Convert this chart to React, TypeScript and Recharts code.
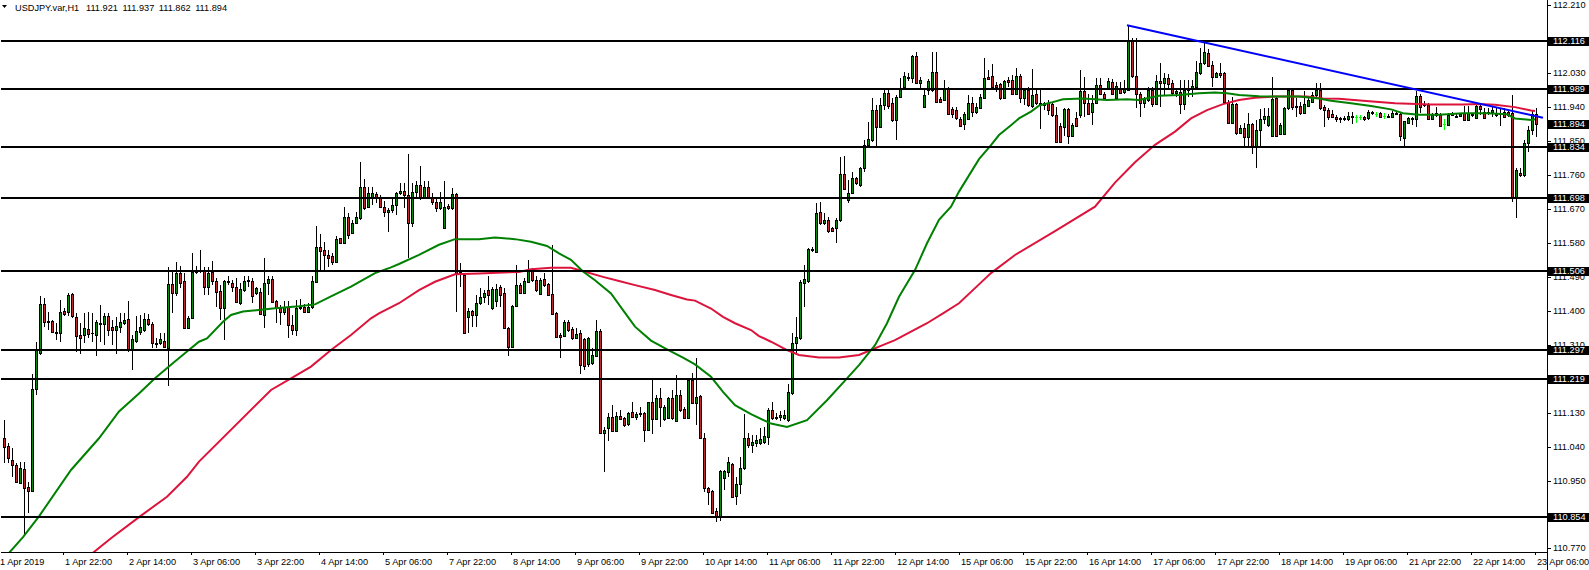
import { ComposedChart, Bar, Line, XAxis, YAxis, ReferenceLine } from "recharts";

// USDJPY H1 candles, 1 Apr 07:00 .. 23 Apr 06:00
const barOpen = [
  111.062, 111.042, 111.005, 110.990, 110.943, 110.980, 110.932, 110.923, 111.192, 111.289,
  111.418, 111.373, 111.374, 111.345, 111.341, 111.400, 111.398, 111.445, 111.383, 111.336,
  111.336, 111.351, 111.342, 111.336, 111.367, 111.364, 111.387, 111.358, 111.349, 111.358,
  111.367, 111.378, 111.296, 111.321, 111.345, 111.349, 111.379, 111.365, 111.315, 111.314,
  111.321, 111.301, 111.470, 111.448, 111.500, 111.478, 111.354, 111.380, 111.502, 111.509,
  111.506, 111.464, 111.504, 111.478, 111.453, 111.407, 111.478, 111.473, 111.464, 111.420,
  111.454, 111.482, 111.479, 111.448, 111.451, 111.389, 111.473, 111.484, 111.425, 111.407,
  111.398, 111.411, 111.363, 111.348, 111.409, 111.409, 111.398, 111.409, 111.476, 111.568,
  111.561, 111.548, 111.544, 111.529, 111.592, 111.579, 111.650, 111.606, 111.632, 111.646,
  111.728, 111.676, 111.699, 111.709, 111.699, 111.676, 111.663, 111.666, 111.681, 111.712,
  111.718, 111.707, 111.632, 111.714, 111.734, 111.703, 111.727, 111.703, 111.689, 111.672,
  111.619, 111.678, 111.672, 111.710, 111.502, 111.495, 111.384, 111.400, 111.389, 111.420,
  111.437, 111.455, 111.407, 111.425, 111.464, 111.446, 111.354, 111.305, 111.413, 111.468,
  111.448, 111.477, 111.508, 111.482, 111.445, 111.484, 111.471, 111.445, 111.393, 111.336,
  111.333, 111.371, 111.351, 111.327, 111.340, 111.325, 111.259, 111.262, 111.280, 111.346,
  111.075, 111.088, 111.119, 111.082, 111.121, 111.115, 111.099, 111.131, 111.119, 111.126,
  111.128, 111.085, 111.157, 111.112, 111.168, 111.113, 111.115, 111.168, 111.108, 111.177,
  111.139, 111.117, 111.216, 111.156, 111.174, 111.062, 110.929, 110.923, 110.870, 110.854,
  110.958, 110.973, 110.993, 110.909, 110.942, 110.982, 111.062, 111.044, 111.050, 111.050,
  111.053, 111.066, 111.137, 111.115, 111.119, 111.115, 111.110, 111.181, 111.314, 111.327,
  111.474, 111.480, 111.561, 111.557, 111.663, 111.634, 111.642, 111.619, 111.619, 111.641,
  111.764, 111.695, 111.711, 111.751, 111.733, 111.778, 111.840, 111.853, 111.932, 111.886,
  111.946, 111.977, 111.952, 111.906, 111.966, 111.994, 112.018, 112.016, 112.076, 112.003,
  111.941, 111.985, 111.985, 112.032, 111.961, 111.959, 111.987, 111.934, 111.932, 111.908,
  111.894, 111.908, 111.952, 111.928, 111.938, 111.965, 112.020, 112.022, 111.998, 112.000,
  111.963, 112.012, 112.012, 111.976, 112.023, 111.965, 111.985, 111.943, 111.974, 111.952,
  111.952, 111.952, 111.947, 111.919, 111.891, 111.888, 111.934, 111.864, 111.912, 111.919,
  111.982, 111.952, 111.926, 111.950, 111.998, 111.976, 111.990, 112.007, 111.965, 111.988,
  111.979, 111.985, 112.115, 112.023, 111.976, 111.950, 111.959, 111.985, 111.948, 112.009,
  112.003, 112.016, 112.003, 111.977, 111.981, 111.948, 111.992, 111.990, 111.994, 112.031,
  112.056, 112.084, 112.052, 112.021, 112.031, 112.030, 111.954, 111.899, 111.948, 111.872,
  111.884, 111.860, 111.895, 111.833, 111.879, 111.908, 111.893, 111.863, 111.963, 111.870,
  111.870, 111.937, 111.985, 111.943, 111.943, 111.925, 111.943, 111.954, 111.972, 111.985,
  111.939, 111.932, 111.923, 111.913, 111.910, 111.912, 111.908, 111.917, 111.913, 111.913,
  111.913, 111.910, 111.924, 111.921, 111.924, 111.917, 111.917, 111.915, 111.924, 111.922,
  111.857, 111.899, 111.910, 111.908, 111.970, 111.948, 111.946, 111.908, 111.924, 111.919,
  111.895, 111.893, 111.924, 111.917, 111.917, 111.924, 111.906, 111.922, 111.910, 111.943,
  111.928, 111.924, 111.928, 111.925, 111.925, 111.928, 111.928, 111.924, 111.698, 111.766,
  111.760, 111.845, 111.880, 111.921,
];

const barHigh = [
  111.111, 111.049, 111.036, 110.996, 110.998, 110.998, 110.947, 111.233, 111.316, 111.439,
  111.433, 111.398, 111.376, 111.367, 111.429, 111.407, 111.448, 111.447, 111.394, 111.367,
  111.394, 111.398, 111.394, 111.376, 111.416, 111.394, 111.394, 111.376, 111.383, 111.394,
  111.394, 111.425, 111.336, 111.385, 111.389, 111.394, 111.391, 111.371, 111.327, 111.341,
  111.341, 111.515, 111.505, 111.530, 111.520, 111.500, 111.385, 111.553, 111.520, 111.562,
  111.517, 111.517, 111.531, 111.486, 111.469, 111.482, 111.491, 111.482, 111.486, 111.473,
  111.491, 111.491, 111.486, 111.464, 111.460, 111.539, 111.491, 111.491, 111.429, 111.416,
  111.425, 111.425, 111.389, 111.429, 111.432, 111.417, 111.420, 111.491, 111.626, 111.603,
  111.582, 111.562, 111.553, 111.597, 111.594, 111.676, 111.659, 111.641, 111.663, 111.794,
  111.750, 111.727, 111.727, 111.716, 111.707, 111.690, 111.672, 111.696, 111.716, 111.738,
  111.738, 111.816, 111.738, 111.743, 111.784, 111.743, 111.743, 111.712, 111.703, 111.716,
  111.743, 111.683, 111.725, 111.712, 111.526, 111.499, 111.407, 111.402, 111.442, 111.460,
  111.455, 111.492, 111.464, 111.470, 111.468, 111.460, 111.358, 111.416, 111.521, 111.473,
  111.486, 111.535, 111.513, 111.491, 111.486, 111.499, 111.475, 111.575, 111.398, 111.340,
  111.376, 111.376, 111.358, 111.354, 111.349, 111.327, 111.331, 111.302, 111.375, 111.351,
  111.093, 111.128, 111.150, 111.132, 111.137, 111.119, 111.132, 111.159, 111.132, 111.146,
  111.132, 111.159, 111.223, 111.176, 111.194, 111.150, 111.172, 111.190, 111.230, 111.190,
  111.146, 111.221, 111.234, 111.274, 111.177, 111.077, 110.933, 110.925, 110.876, 110.979,
  110.979, 111.013, 110.997, 110.960, 111.013, 111.126, 111.075, 111.070, 111.070, 111.088,
  111.093, 111.141, 111.159, 111.128, 111.135, 111.137, 111.207, 111.340, 111.384, 111.482,
  111.521, 111.566, 111.570, 111.685, 111.689, 111.658, 111.650, 111.623, 111.645, 111.809,
  111.810, 111.747, 111.769, 111.756, 111.782, 111.853, 111.901, 111.963, 111.946, 111.963,
  111.985, 111.985, 111.963, 111.972, 112.016, 112.034, 112.030, 112.078, 112.087, 112.019,
  111.985, 112.014, 112.087, 112.087, 111.968, 112.012, 111.994, 111.941, 111.941, 111.915,
  111.928, 111.972, 111.967, 111.950, 111.974, 112.071, 112.038, 112.053, 112.007, 112.003,
  112.012, 112.020, 112.025, 112.043, 112.029, 111.990, 111.994, 112.040, 111.990, 111.990,
  111.954, 111.959, 111.952, 111.941, 111.897, 111.937, 111.937, 111.897, 111.928, 112.038,
  112.020, 111.974, 111.972, 112.016, 112.016, 111.981, 112.016, 112.014, 112.007, 112.007,
  112.012, 112.157, 112.122, 112.122, 111.981, 111.967, 111.994, 111.994, 112.025, 112.056,
  112.030, 112.028, 112.012, 111.990, 112.012, 112.012, 112.012, 112.012, 112.061, 112.096,
  112.114, 112.093, 112.061, 112.034, 112.056, 112.034, 111.959, 111.968, 111.952, 111.893,
  111.897, 111.924, 111.899, 111.906, 111.934, 111.937, 111.937, 112.021, 111.968, 111.897,
  111.941, 111.987, 111.990, 111.963, 111.954, 111.984, 111.968, 111.981, 112.003, 112.003,
  111.946, 111.937, 111.932, 111.919, 111.913, 111.917, 111.928, 111.928, 111.919, 111.919,
  111.917, 111.932, 111.931, 111.928, 111.928, 111.924, 111.921, 111.931, 111.928, 111.928,
  111.904, 111.915, 111.915, 111.984, 111.975, 111.955, 111.952, 111.925, 111.941, 111.924,
  111.908, 111.924, 111.928, 111.921, 111.925, 111.943, 111.943, 111.925, 111.946, 111.950,
  111.937, 111.937, 111.940, 111.937, 111.937, 111.937, 111.932, 111.972, 111.778, 111.778,
  111.853, 111.890, 111.930, 111.937,
];

const barLow = [
  110.996, 110.996, 110.960, 110.943, 110.941, 110.806, 110.863, 110.923, 111.177, 111.283,
  111.358, 111.349, 111.341, 111.323, 111.318, 111.385, 111.385, 111.380, 111.292, 111.286,
  111.314, 111.327, 111.318, 111.279, 111.318, 111.310, 111.332, 111.310, 111.286, 111.341,
  111.363, 111.292, 111.242, 111.314, 111.336, 111.345, 111.361, 111.301, 111.301, 111.310,
  111.301, 111.201, 111.394, 111.440, 111.460, 111.351, 111.352, 111.380, 111.498, 111.500,
  111.442, 111.442, 111.469, 111.411, 111.376, 111.323, 111.469, 111.451, 111.420, 111.416,
  111.451, 111.464, 111.420, 111.442, 111.389, 111.354, 111.442, 111.420, 111.367, 111.363,
  111.389, 111.329, 111.336, 111.334, 111.402, 111.394, 111.394, 111.405, 111.473, 111.506,
  111.506, 111.517, 111.522, 111.526, 111.579, 111.577, 111.591, 111.603, 111.630, 111.641,
  111.668, 111.674, 111.681, 111.685, 111.672, 111.650, 111.610, 111.659, 111.654, 111.707,
  111.672, 111.539, 111.621, 111.703, 111.694, 111.696, 111.696, 111.681, 111.663, 111.667,
  111.616, 111.667, 111.667, 111.398, 111.464, 111.340, 111.340, 111.358, 111.358, 111.415,
  111.420, 111.415, 111.402, 111.410, 111.411, 111.351, 111.279, 111.303, 111.411, 111.445,
  111.446, 111.473, 111.477, 111.451, 111.442, 111.464, 111.439, 111.389, 111.330, 111.274,
  111.331, 111.345, 111.323, 111.324, 111.232, 111.243, 111.252, 111.256, 111.280, 111.075,
  110.973, 111.055, 111.079, 111.079, 111.110, 111.093, 111.094, 111.115, 111.110, 111.119,
  111.053, 111.084, 111.073, 111.110, 111.093, 111.108, 111.112, 111.110, 111.106, 111.132,
  111.115, 111.112, 111.154, 111.097, 111.062, 110.920, 110.885, 110.863, 110.841, 110.843,
  110.925, 110.960, 110.907, 110.885, 110.914, 110.979, 111.035, 111.024, 111.040, 111.044,
  111.048, 111.044, 111.110, 111.110, 111.108, 111.110, 111.106, 111.177, 111.287, 111.322,
  111.411, 111.473, 111.557, 111.552, 111.627, 111.627, 111.607, 111.610, 111.579, 111.636,
  111.720, 111.687, 111.710, 111.733, 111.729, 111.769, 111.831, 111.848, 111.837, 111.884,
  111.932, 111.934, 111.901, 111.853, 111.963, 111.992, 112.008, 112.003, 112.003, 111.985,
  111.938, 111.972, 111.981, 111.950, 111.950, 111.957, 111.919, 111.910, 111.906, 111.886,
  111.879, 111.908, 111.914, 111.923, 111.937, 111.963, 112.012, 111.985, 111.981, 111.959,
  111.961, 111.994, 111.972, 111.972, 111.950, 111.945, 111.941, 111.938, 111.945, 111.883,
  111.932, 111.919, 111.914, 111.848, 111.846, 111.864, 111.841, 111.861, 111.888, 111.910,
  111.914, 111.919, 111.892, 111.947, 111.972, 111.959, 111.985, 111.972, 111.963, 111.976,
  111.976, 111.982, 112.016, 111.937, 111.914, 111.937, 111.954, 111.939, 111.946, 111.941,
  111.972, 111.985, 111.972, 111.968, 111.923, 111.932, 111.968, 111.968, 111.990, 112.025,
  112.052, 112.047, 111.994, 112.019, 112.016, 111.952, 111.897, 111.897, 111.866, 111.869,
  111.835, 111.835, 111.817, 111.778, 111.835, 111.895, 111.888, 111.862, 111.862, 111.866,
  111.869, 111.932, 111.932, 111.913, 111.919, 111.923, 111.939, 111.952, 111.968, 111.932,
  111.888, 111.906, 111.910, 111.901, 111.899, 111.904, 111.902, 111.895, 111.899, 111.906,
  111.904, 111.906, 111.919, 111.913, 111.910, 111.908, 111.910, 111.913, 111.918, 111.851,
  111.835, 111.897, 111.893, 111.886, 111.924, 111.941, 111.906, 111.906, 111.915, 111.888,
  111.879, 111.890, 111.917, 111.910, 111.915, 111.904, 111.904, 111.915, 111.908, 111.919,
  111.908, 111.919, 111.915, 111.915, 111.890, 111.913, 111.915, 111.689, 111.645, 111.756,
  111.756, 111.820, 111.865, 111.862,
];

const barClose = [
  111.040, 111.009, 110.990, 110.947, 110.983, 110.931, 110.922, 111.192, 111.296, 111.418,
  111.371, 111.370, 111.345, 111.341, 111.398, 111.391, 111.442, 111.385, 111.332, 111.327,
  111.354, 111.338, 111.340, 111.370, 111.364, 111.387, 111.349, 111.349, 111.360, 111.369,
  111.376, 111.296, 111.325, 111.347, 111.356, 111.378, 111.364, 111.314, 111.313, 111.325,
  111.303, 111.470, 111.448, 111.500, 111.473, 111.354, 111.380, 111.504, 111.508, 111.507,
  111.464, 111.500, 111.479, 111.451, 111.407, 111.478, 111.476, 111.464, 111.423, 111.458,
  111.479, 111.478, 111.440, 111.460, 111.391, 111.473, 111.484, 111.423, 111.407, 111.398,
  111.411, 111.363, 111.349, 111.407, 111.407, 111.396, 111.409, 111.478, 111.569, 111.559,
  111.548, 111.541, 111.529, 111.591, 111.581, 111.650, 111.601, 111.632, 111.650, 111.728,
  111.672, 111.712, 111.712, 111.699, 111.676, 111.661, 111.667, 111.681, 111.712, 111.718,
  111.707, 111.634, 111.714, 111.734, 111.703, 111.727, 111.703, 111.689, 111.672, 111.689,
  111.676, 111.672, 111.710, 111.499, 111.500, 111.340, 111.400, 111.389, 111.420, 111.437,
  111.446, 111.442, 111.457, 111.457, 111.442, 111.354, 111.305, 111.413, 111.468, 111.448,
  111.480, 111.508, 111.482, 111.455, 111.482, 111.468, 111.442, 111.392, 111.331, 111.330,
  111.371, 111.349, 111.327, 111.338, 111.256, 111.253, 111.327, 111.283, 111.346, 111.075,
  111.085, 111.119, 111.082, 111.121, 111.112, 111.097, 111.128, 111.119, 111.126, 111.128,
  111.085, 111.157, 111.112, 111.168, 111.144, 111.146, 111.169, 111.115, 111.177, 111.137,
  111.117, 111.216, 111.156, 111.172, 111.062, 110.929, 110.920, 110.864, 110.856, 110.976,
  110.976, 111.000, 110.907, 110.942, 110.982, 111.062, 111.044, 111.053, 111.057, 111.059,
  111.068, 111.137, 111.115, 111.119, 111.124, 111.124, 111.185, 111.314, 111.331, 111.477,
  111.483, 111.563, 111.563, 111.658, 111.634, 111.642, 111.612, 111.612, 111.641, 111.764,
  111.722, 111.711, 111.751, 111.738, 111.778, 111.840, 111.855, 111.932, 111.886, 111.946,
  111.977, 111.943, 111.906, 111.968, 111.990, 112.023, 112.020, 112.076, 112.003, 112.012,
  111.972, 112.010, 112.032, 111.954, 111.954, 111.987, 111.922, 111.922, 111.910, 111.890,
  111.923, 111.952, 111.928, 111.941, 111.966, 112.018, 112.014, 111.994, 111.994, 111.963,
  112.009, 112.007, 111.976, 112.023, 111.965, 111.985, 111.945, 111.972, 111.950, 111.947,
  111.945, 111.932, 111.919, 111.848, 111.848, 111.934, 111.864, 111.892, 111.891, 111.982,
  111.950, 111.921, 111.952, 111.998, 111.976, 111.963, 112.009, 111.976, 111.997, 111.978,
  111.990, 112.115, 112.023, 111.976, 111.950, 111.961, 111.985, 111.948, 112.009, 112.003,
  112.016, 112.001, 111.977, 111.984, 111.948, 111.985, 111.985, 111.996, 112.034, 112.058,
  112.087, 112.049, 112.019, 112.031, 112.025, 111.954, 111.899, 111.948, 111.872, 111.884,
  111.860, 111.895, 111.833, 111.879, 111.908, 111.916, 111.916, 111.961, 111.863, 111.893,
  111.937, 111.985, 111.941, 111.939, 111.925, 111.948, 111.959, 111.972, 111.985, 111.937,
  111.932, 111.915, 111.913, 111.908, 111.908, 111.908, 111.917, 111.913, 111.913, 111.913,
  111.908, 111.928, 111.926, 111.921, 111.915, 111.917, 111.913, 111.925, 111.921, 111.864,
  111.902, 111.910, 111.908, 111.970, 111.941, 111.946, 111.908, 111.919, 111.919, 111.890,
  111.895, 111.919, 111.920, 111.913, 111.922, 111.906, 111.924, 111.918, 111.943, 111.934,
  111.910, 111.928, 111.932, 111.920, 111.922, 111.915, 111.919, 111.698, 111.772, 111.760,
  111.845, 111.880, 111.921, 111.894,
];

// moving averages, sampled at [bar, price]
const greenMa: [number, number][] = [
  [0, 110.74], [5, 110.8], [9, 110.855], [17, 110.978], [24, 111.062], [29, 111.133],
  [34, 111.181], [38, 111.221], [42, 111.257], [46, 111.292], [49, 111.318], [51, 111.327],
  [55, 111.371], [57, 111.389], [60, 111.398], [68, 111.407], [74, 111.412], [78, 111.417],
  [82, 111.438], [87, 111.464], [90, 111.482], [93, 111.5], [97, 111.515], [99, 111.524],
  [104, 111.548], [109, 111.575], [113, 111.59], [119, 111.59], [123, 111.594], [128, 111.59],
  [132, 111.583], [136, 111.572], [139, 111.552], [142, 111.535], [145, 111.504], [148, 111.481],
  [152, 111.446], [155, 111.402], [158, 111.358], [162, 111.321], [166, 111.298], [170, 111.276],
  [173, 111.258], [177, 111.225], [180, 111.185], [183, 111.15], [187, 111.126], [192, 111.101],
  [196, 111.092], [201, 111.11], [206, 111.163], [211, 111.221], [214, 111.256], [218, 111.309],
  [221, 111.367], [224, 111.437], [228, 111.508], [231, 111.579], [234, 111.641], [237, 111.676],
  [239, 111.716], [244, 111.802], [247, 111.839], [249, 111.866], [252, 111.892], [254, 111.91],
  [257, 111.928], [259, 111.944], [262, 111.952], [265, 111.961], [270, 111.963], [276, 111.959],
  [281, 111.961], [284, 111.959], [289, 111.97], [294, 111.972], [299, 111.977], [303, 111.979],
  [306, 111.977], [309, 111.972], [314, 111.969], [319, 111.968], [324, 111.968], [329, 111.963],
  [332, 111.957], [337, 111.95], [342, 111.943], [347, 111.934], [350, 111.924], [354, 111.92],
  [359, 111.92], [365, 111.924], [371, 111.924], [376, 111.921], [378, 111.91], [382, 111.906],
  [383, 111.908],
];

const redMa: [number, number][] = [
  [20, 110.737], [27, 110.797], [34, 110.853], [41, 110.907], [46, 110.96], [49, 111.0],
  [67, 111.19], [72, 111.221], [77, 111.252], [82, 111.296], [87, 111.336], [92, 111.38],
  [94, 111.393], [99, 111.42], [104, 111.455], [108, 111.477], [113, 111.497], [119, 111.499],
  [129, 111.503], [132, 111.51], [137, 111.514], [142, 111.514], [144, 111.508], [150, 111.49],
  [154, 111.479], [158, 111.468], [163, 111.455], [167, 111.442], [171, 111.43], [173, 111.427],
  [177, 111.406], [180, 111.384], [183, 111.367], [187, 111.349], [189, 111.333], [192, 111.318],
  [196, 111.296], [199, 111.283], [204, 111.276], [209, 111.276], [214, 111.283], [217, 111.296],
  [219, 111.305], [223, 111.322], [227, 111.345], [231, 111.367], [235, 111.393], [239, 111.42],
  [244, 111.47], [247, 111.5], [253, 111.548], [263, 111.611], [273, 111.676], [278, 111.74],
  [283, 111.794], [288, 111.84], [293, 111.875], [297, 111.91], [301, 111.932], [305, 111.948],
  [309, 111.959], [313, 111.965], [318, 111.968], [326, 111.968], [330, 111.963], [334, 111.962],
  [340, 111.957], [348, 111.95], [357, 111.947], [365, 111.947], [369, 111.948], [373, 111.946],
  [378, 111.94], [382, 111.931], [383, 111.93],
];

const trendPoints: [number, number][] = [[281, 112.157], [385, 111.912]];

const levels = [112.116, 111.989, 111.834, 111.698, 111.506, 111.297, 111.219, 110.854];
const lastPrice = 111.894;
const priceTicks = [
  112.21, 112.03, 111.94, 111.85, 111.76, 111.67, 111.58, 111.49, 111.4, 111.31,
  111.13, 111.04, 110.95, 110.77,
];

const timeLabels = [
  "1 Apr 2019", "1 Apr 22:00", "2 Apr 14:00", "3 Apr 06:00", "3 Apr 22:00", "4 Apr 14:00",
  "5 Apr 06:00", "7 Apr 22:00", "8 Apr 14:00", "9 Apr 06:00", "9 Apr 22:00", "10 Apr 14:00",
  "11 Apr 06:00", "11 Apr 22:00", "12 Apr 14:00", "15 Apr 06:00", "15 Apr 22:00", "16 Apr 14:00",
  "17 Apr 06:00", "17 Apr 22:00", "18 Apr 14:00", "19 Apr 06:00", "21 Apr 22:00", "22 Apr 14:00",
  "23 Apr 06:00",
];
const timeLabelBars = [
  0, 15, 31, 47, 63, 79, 95, 111, 127, 143, 159, 175, 191, 207, 223, 239, 255, 271, 287, 303,
  319, 335, 351, 367, 383,
];

const SLOTS = 386; // bars plus the empty shift on the right
const FONT = "'Liberation Sans', Arial, sans-serif";
const BULL = "#0a8a0a";
const BEAR = "#c0282c";
const FLAT = "#00ff00";

type Row = {
  i: number;
  o?: number;
  h?: number;
  l?: number;
  c?: number;
  green: number | null;
  red: number | null;
  trend: number | null;
};

const data: Row[] = Array.from({ length: SLOTS }, (_, i) => ({
  i,
  o: barOpen[i],
  h: barHigh[i],
  l: barLow[i],
  c: barClose[i],
  green: null,
  red: null,
  trend: null,
}));
greenMa.forEach(([i, v]) => (data[i].green = v));
redMa.forEach(([i, v]) => (data[i].red = v));
trendPoints.forEach(([i, v]) => (data[i].trend = v));

function Candle(props: any) {
  const { x, y, width, height, payload } = props;
  if (!payload || payload.o == null || !isFinite(y) || !isFinite(height)) return null;
  const yHi = Math.min(y, y + height);
  const yLo = Math.max(y, y + height);
  const span = payload.h - payload.l;
  const toY = (v: number) => (span > 0 ? yHi + ((payload.h - v) / span) * (yLo - yHi) : yHi);
  const cx = Math.round(x + width / 2);
  const top = Math.round(yHi);
  const bottom = Math.max(top + 1, Math.round(yLo));
  const yo = Math.round(toY(payload.o));
  const yc = Math.round(toY(payload.c));
  if (payload.o === payload.c) {
    return (
      <g>
        <rect x={cx} y={top} width={1} height={bottom - top} fill={FLAT} />
        <rect x={cx - 1} y={yo} width={3} height={1} fill={FLAT} />
      </g>
    );
  }
  const bTop = Math.min(yo, yc);
  const bh = Math.max(1, Math.max(yo, yc) - bTop + 1);
  return (
    <g>
      <rect x={cx} y={top} width={1} height={bottom - top} fill="#000" />
      <rect x={cx - 1} y={bTop} width={3} height={bh} fill="#000" />
      {bh > 2 && (
        <rect x={cx} y={bTop + 1} width={1} height={bh - 2} fill={payload.c > payload.o ? BULL : BEAR} />
      )}
    </g>
  );
}

function TimeTick(props: any) {
  const { x, y, payload } = props;
  const k = timeLabelBars.indexOf(payload.value);
  if (k < 0) return null;
  const px = Math.round(x);
  return (
    <g>
      {k > 0 && <rect x={px} y={y} width={1} height={3} fill="#000" />}
      <text x={k === 0 ? 0 : px + 2} y={y + 13} fontSize={9.2} fontFamily={FONT} fill="#000">
        {timeLabels[k]}
      </text>
    </g>
  );
}

function PriceTick(props: any) {
  const { x, y, payload } = props;
  const v = payload.value as number;
  const axisX = x - 6;
  const yy = Math.round(y);
  const tagged = levels.includes(v) || v === lastPrice;
  return (
    <g>
      {tagged ? (
        <rect x={axisX + 1} y={yy - 4} width={42} height={9} fill="#000" />
      ) : (
        <rect x={axisX + 1} y={yy} width={3} height={1} fill="#000" />
      )}
      <text x={x} y={yy + 3.4} fontSize={9.2} fontFamily={FONT} fill={tagged ? "#fff" : "#000"}>
        {v.toFixed(3)}
      </text>
    </g>
  );
}

export default function App() {
  return (
    <div style={{ position: "absolute", left: 0, top: 0, width: 1589, height: 570, background: "#fff" }}>
      <ComposedChart
        width={1589}
        height={570}
        data={data}
        margin={{ top: 0, right: 0, bottom: 0, left: 1 }}
        barCategoryGap={0}
      >
        <XAxis
          dataKey="i"
          type="category"
          ticks={timeLabelBars}
          interval={0}
          tick={<TimeTick />}
          tickLine={false}
          tickSize={0}
          tickMargin={0}
          height={18}
          padding={{ left: 0, right: 2 }}
          axisLine={{ stroke: "#000", shapeRendering: "crispEdges" }}
        />
        <YAxis
          orientation="right"
          type="number"
          domain={[110.7605, 112.224]}
          allowDataOverflow
          ticks={[...priceTicks, ...levels, lastPrice]}
          interval={0}
          tick={<PriceTick />}
          tickLine={false}
          tickSize={3}
          tickMargin={3}
          width={42}
          axisLine={{ stroke: "#000", shapeRendering: "crispEdges" }}
        />
        <Bar
          dataKey={(d: Row) => (d.o == null ? null : [d.l, d.h])}
          barSize={3}
          shape={(p: any) => <Candle {...p} />}
          isAnimationActive={false}
        />
        <Line dataKey="red" stroke="#dc143c" strokeWidth={2} dot={false} connectNulls isAnimationActive={false} />
        <Line dataKey="green" stroke="#008000" strokeWidth={2} dot={false} connectNulls isAnimationActive={false} />
        {levels.map((v) => (
          <ReferenceLine key={v} y={v} stroke="#000" strokeWidth={2} shapeRendering="crispEdges" />
        ))}
        <Line dataKey="trend" stroke="#0000ff" strokeWidth={2} dot={false} connectNulls isAnimationActive={false} />
      </ComposedChart>
      <svg style={{ position: "absolute", left: 0, top: 0 }} width={320} height={14}>
        <polygon points="2,5 7,5 4.5,8" fill="#000" />
        <text x={15} y={10.5} fontSize={9.2} fontFamily={FONT} fill="#000">
          USDJPY.var,H1
        </text>
        <text x={86} y={10.5} fontSize={9.2} fontFamily={FONT} fill="#000" wordSpacing={2}>
          111.921 111.937 111.862 111.894
        </text>
      </svg>
      <div style={{ position: "absolute", left: 1547, top: 552, width: 1, height: 18, background: "#000" }} />
    </div>
  );
}
